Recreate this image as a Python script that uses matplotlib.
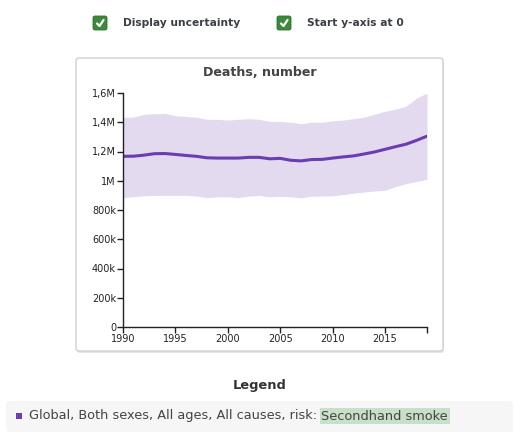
import matplotlib
matplotlib.use('Agg')
from matplotlib import pyplot as plt
from matplotlib.patches import FancyBboxPatch, Rectangle
from matplotlib.lines import Line2D

# data (deaths, millions)
years = list(range(1990, 2020))
mean_vals = [1.167, 1.168, 1.175, 1.185, 1.186, 1.180, 1.173, 1.167, 1.157, 1.155,
             1.155, 1.155, 1.160, 1.160, 1.150, 1.153, 1.140, 1.136, 1.145, 1.146,
             1.155, 1.163, 1.170, 1.183, 1.197, 1.215, 1.233, 1.250, 1.276, 1.305]
upper_vals = [1.434, 1.435, 1.455, 1.458, 1.460, 1.445, 1.440, 1.435, 1.420, 1.420,
              1.415, 1.420, 1.425, 1.420, 1.405, 1.405, 1.400, 1.390, 1.400, 1.400,
              1.410, 1.415, 1.425, 1.435, 1.455, 1.475, 1.490, 1.510, 1.565, 1.600]
lower_vals = [0.883, 0.892, 0.897, 0.900, 0.900, 0.900, 0.900, 0.895, 0.885, 0.890,
              0.890, 0.885, 0.895, 0.900, 0.890, 0.893, 0.890, 0.883, 0.895, 0.895,
              0.897, 0.905, 0.915, 0.922, 0.930, 0.935, 0.960, 0.980, 0.995, 1.010]
y_ticks = [0, 0.2, 0.4, 0.6, 0.8, 1.0, 1.2, 1.4, 1.6]
y_tick_labels = ['0', '200k', '400k', '600k', '800k', '1M', '1,2M', '1,4M', '1,6M']
x_ticks = [1990, 1995, 2000, 2005, 2010, 2015]

title = 'Deaths, number'
checkboxes = ['Display uncertainty', 'Start y-axis at 0']
legend_label = 'Global, Both sexes, All ages, All causes, risk: '
legend_risk = 'Secondhand smoke'

W, H = 520, 443
line_color = '#6b3db3'
fill_color = '#e3daf0'
text_color = '#333333'


def px(x, y):
    # pixel coords (top-left origin) -> figure fraction
    return x / W, 1 - y / H


fig = plt.figure(figsize=(W / 100, H / 100), dpi=100)
fig.patch.set_facecolor('white')

# card around the chart
x0, y0 = px(76, 351)
card = FancyBboxPatch((x0, y0), 367 / W, 293 / H, boxstyle='round,pad=0,rounding_size=0.006',
                      transform=fig.transFigure, facecolor='white', edgecolor='#d0d0d0',
                      linewidth=1.0, zorder=-2)
shadow = FancyBboxPatch((x0 + 1 / W, y0 - 2 / H), 367 / W, 293 / H,
                        boxstyle='round,pad=0,rounding_size=0.006',
                        transform=fig.transFigure, facecolor='#e6e6e6', edgecolor='none', zorder=-3)
fig.patches.extend([shadow, card])

# main axes
ax = fig.add_axes([123 / W, (H - 327) / H, 304 / W, 234 / H])
ax.set_zorder(2)
ax.set_facecolor('none')
ax.fill_between(years, lower_vals, upper_vals, color=fill_color, linewidth=0)
ax.plot(years, mean_vals, color=line_color, linewidth=2.2, solid_capstyle='round')
ax.set_xlim(1990, 2019)
ax.set_ylim(0, 1.6)
ax.set_yticks(y_ticks)
ax.set_yticklabels(y_tick_labels)
ax.set_xticks(x_ticks)
ax.set_xticks([2019], minor=True)
ax.tick_params(axis='both', labelsize=7, colors='#222222', length=4, width=1, pad=1)
ax.tick_params(axis='x', which='minor', length=4, width=1, color='#222222')
for s in ['top', 'right']:
    ax.spines[s].set_visible(False)
for s in ['left', 'bottom']:
    ax.spines[s].set_color('#222222')
    ax.spines[s].set_linewidth(1)

tx, ty = px(260, 73)
fig.text(tx, ty, title, ha='center', va='center', fontsize=9.1, fontweight='bold', color='#444444')

# checkboxes at the top
for bx, label in zip([93, 277], checkboxes):
    cx, cy = px(bx, 30)
    box = FancyBboxPatch((cx, cy), 14 / W, 14 / H, boxstyle='round,pad=0,rounding_size=0.004',
                         transform=fig.transFigure, facecolor='#3b8a3b', edgecolor='#2f6f2f', linewidth=0.6)
    fig.patches.append(box)
    p1, p2, p3 = px(bx + 4, 23.5), px(bx + 6.5, 26), px(bx + 10.5, 20)
    fig.lines.append(Line2D([p1[0], p2[0], p3[0]], [p1[1], p2[1], p3[1]], transform=fig.transFigure,
                            color='white', linewidth=1.6, solid_capstyle='round', solid_joinstyle='round'))
    lx, ly = px(bx + 30, 23)
    fig.text(lx, ly, label, ha='left', va='center', fontsize=7.7, fontweight='bold', color='#3a3f45')

# legend
lx, ly = px(260, 385)
fig.text(lx, ly, 'Legend', ha='center', va='center', fontsize=9.4, fontweight='bold', color=text_color)
bx0, by0 = px(6, 432)
legend_box = FancyBboxPatch((bx0, by0), 507 / W, 31 / H, boxstyle='round,pad=0,rounding_size=0.008',
                            transform=fig.transFigure, facecolor='#f6f6f6', edgecolor='none')
fig.patches.append(legend_box)
sx, sy = px(16, 419)
fig.patches.append(Rectangle((sx, sy), 6 / W, 6 / H, transform=fig.transFigure,
                             facecolor=line_color, edgecolor='none'))
tx, ty = px(29, 416)
t1 = fig.text(tx, ty, legend_label, ha='left', va='center', fontsize=9.3, color='#444444')
fig.canvas.draw()
ext = t1.get_window_extent(fig.canvas.get_renderer())
fig.text(ext.x1 / W, ty, legend_risk, ha='left', va='center', fontsize=9.3, color='#444444',
         bbox=dict(facecolor='#c8dfc8', edgecolor='none', pad=1.2))

fig.savefig('out.png', dpi=100)
